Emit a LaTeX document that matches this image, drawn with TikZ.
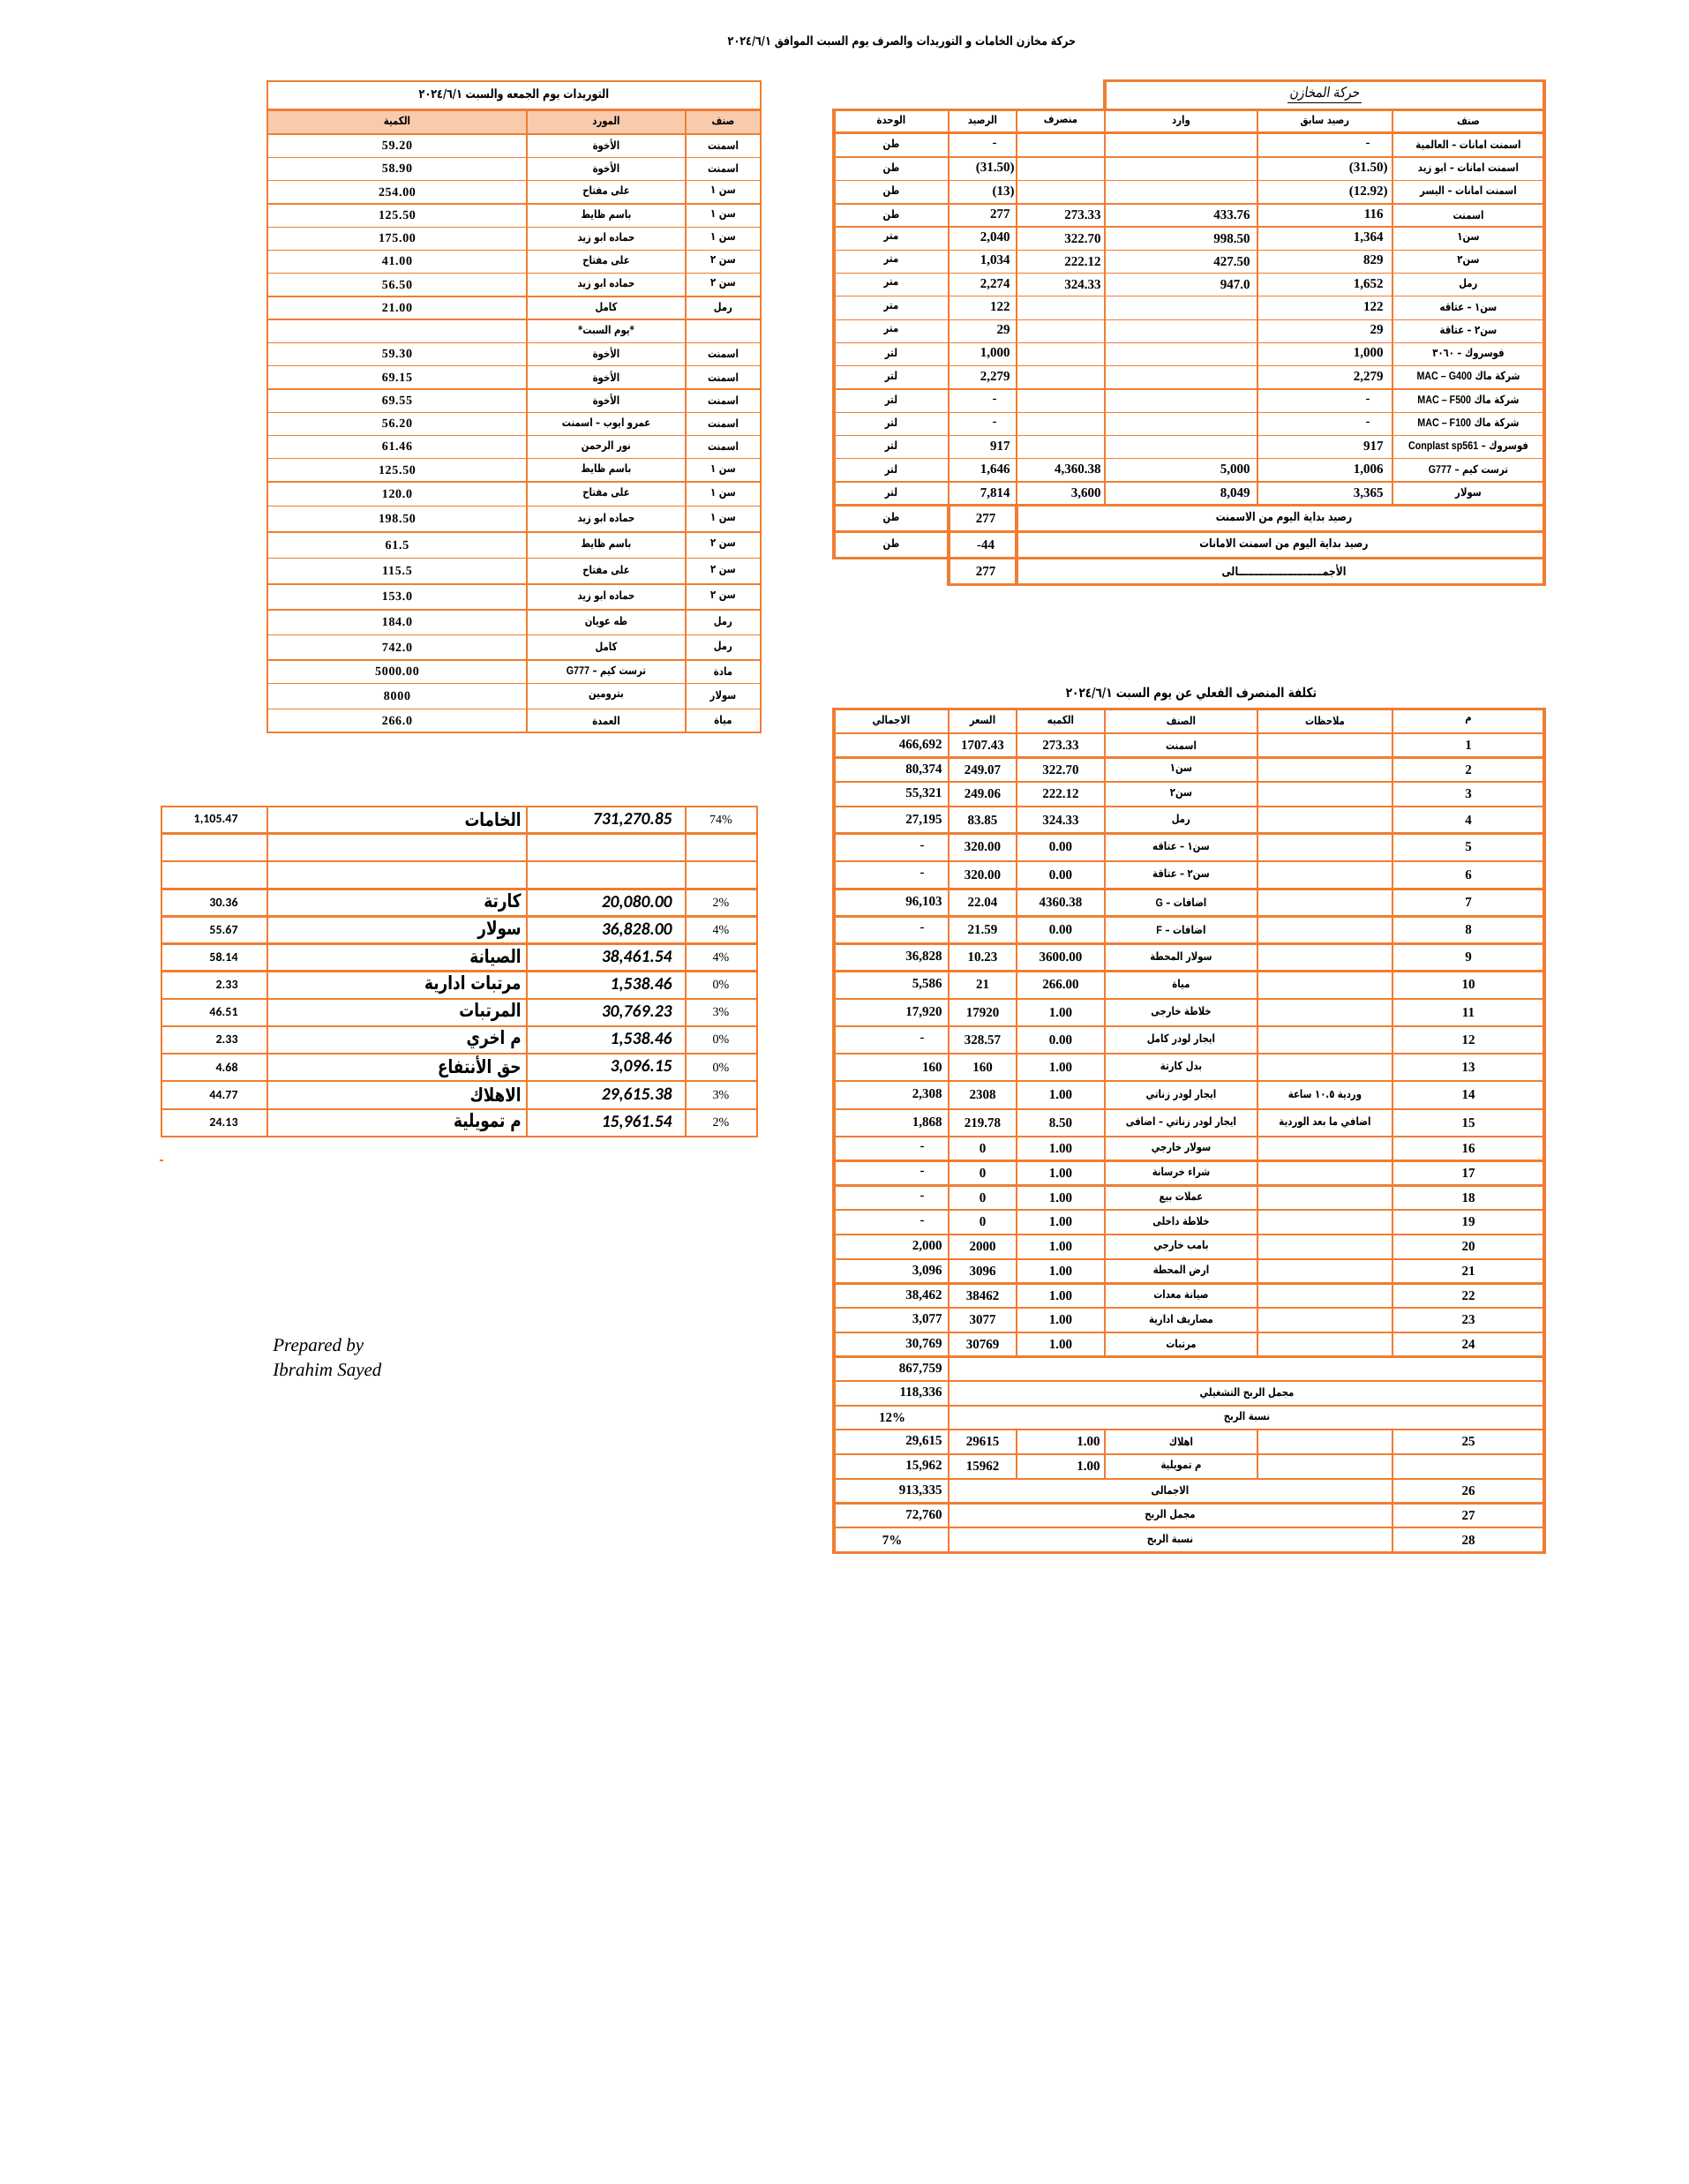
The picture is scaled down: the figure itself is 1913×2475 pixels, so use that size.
\documentclass[tikz,border=0pt]{standalone}
\usepackage{fontspec}
\setmainfont{Liberation Serif}
\newfontfamily\arfont[Script=Arabic,FakeStretch=0.8]{DejaVu Sans}
\newfontfamily\arslant[Script=Arabic,FakeStretch=0.85,FakeSlant=0.15]{DejaVu Sans}
\newfontfamily\digfont[FakeStretch=0.8]{DejaVu Sans}
\newfontfamily\lsfont[FakeStretch=0.85]{Liberation Sans}
\newfontfamily\calfont{Carlito}
\newfontfamily\serfont{Liberation Serif}
\newfontfamily\spfont[LetterSpace=5]{Liberation Serif}
\TeXXeTstate=1
\definecolor{orng}{RGB}{240,125,49}
\definecolor{peach}{RGB}{248,203,173}
\newcommand\fs[1]{\fontsize{#1}{#1}\selectfont}
\newcommand\AR[1]{{\arfont\bfseries #1}}
\newcommand\AD[1]{\beginL{\digfont\bfseries #1}\endL}
\newcommand\LT[1]{\beginL{\lsfont\bfseries #1}\endL}
\newcommand\phr{\phantom{)}}
\newcommand\dsh{-\kern10pt\relax}
\newcommand\TRrow[8]{%
 \node[ar] (tra#1) at (1664,#2) {\AR{#3}};
 \node[nm,anchor=east] (trb#1) at (1573,#2) {#4};
 \node[nm,anchor=east] (trc#1) at (1417,#2) {#5};
 \node[nm,anchor=east] (trd#1) at (1248,#2) {#6};
 \node[nm,anchor=east] (tre#1) at (1150,#2) {#7};
 \node[ar] (trf#1) at (1010,#2) {\AR{#8}};}
\newcommand\TLrow[5]{%
 \node[ar] (tls#1) at (819.5,#2) {\AR{#3}};
 \node[ar] (tlm#1) at (687,#2) {\AR{#4}};
 \node[tln] (tlq#1) at (450,#2) {#5};}
\newcommand\BRrow[8]{%
 \node[nm] (brm#1) at (1664,#2) {#3};
 \node[ar] (brn#1) at (1501.5,#2) {\AR{#4}};
 \node[ar] (bri#1) at (1338.5,#2) {\AR{#5}};
 \node[nm] (brq#1) at (1202,#2) {#6};
 \node[nm] (brp#1) at (1113.5,#2) {#7};
 \node[nm,anchor=east] (brt#1) at (1068,#2) {#8};}
\newcommand\BLrow[6]{%
 \node[blc,anchor=east] (bla#1) at (270,#2) {#3};
 \node[bll,anchor=east] (blb#1) at (591,#2) {\AR{#4}};
 \node[bln,anchor=east] (blc#1) at (762,#2) {#5};
 \node[blp] (bld#1) at (817,#2) {#6};}
\begin{document}
\begin{tikzpicture}[x=0.5pt,y=-0.5pt,
 gl/.style={draw=orng,line width=0.8pt},
 hl/.style={draw=orng,line width=1.2pt},
 ol/.style={draw=orng,line width=1.6pt},
 ar/.style={inner sep=0pt,font=\fs{6.3}},
 arb/.style={inner sep=0pt,font=\fs{6.7}},
 nm/.style={inner sep=0pt,font=\fs{7.5}\serfont\bfseries},
 tln/.style={inner sep=0pt,font=\fs{7}\spfont\bfseries},
 blc/.style={inner sep=0pt,font=\fs{7}\calfont\bfseries},
 bll/.style={inner sep=0pt,font=\fs{10.5}},
 bln/.style={inner sep=0pt,font=\fs{9.8}\calfont\bfseries\itshape},
 blp/.style={inner sep=0pt,font=\fs{7}\serfont}]
\useasboundingbox (0,0) rectangle (1913,2475);
\fill[white] (0,0) rectangle (1913,2475);

% ---------- main title
\node[inner sep=0pt,font=\fs{7}] (title) at (1022,48) {\AR{\beginR حركة مخازن الخامات و التوريدات والصرف يوم السبت الموافق \AD{٢٠٢٤/٦/١}\endR}};

% ---------- top-right grid
\foreach \y in {178,204.3,230.7,257,283.3,309.3,335.5,362.3,388.3,414.3,440.7,467.3,493.5,519.5,546}
  \draw[gl] (945,\y) -- (1750,\y);
\foreach \x in {1075,1152,1252,1425,1578}
  \draw[gl] (\x,124.3) -- (\x,572.7);
\draw[ol] (1252,91.7) rectangle (1750,124.3);
\draw[ol] (945,124.3) rectangle (1750,632.7);
\foreach \y in {150.7,572.7,602.3}
  \draw[ol] (945,\y) -- (1750,\y);
\draw[ol] (1075,572.7) -- (1075,662.3);
\draw[ol] (1152,572.7) -- (1152,662.3);
\draw[ol] (1075,632.7) rectangle (1750,662.3);

\node[inner sep=1pt,font=\fs{8}] (hdrM) at (1501,106) {{\arslant\beginR حركة المخازن\endR}};
\draw[black,line width=0.5pt] (hdrM.south west) -- (hdrM.south east);

\node[ar] (h1) at (1664,137.5) {\AR{\beginR صنف\endR}};
\node[ar] (h2) at (1501.5,137.5) {\AR{\beginR رصيد سابق\endR}};
\node[ar] (h3) at (1338.5,137.5) {\AR{\beginR وارد\endR}};
\node[ar] (h4) at (1202,137.5) {\AR{\beginR منصرف\endR}};
\node[ar] (h5) at (1113.5,137.5) {\AR{\beginR الرصيد\endR}};
\node[ar] (h6) at (1010,137.5) {\AR{\beginR الوحدة\endR}};

\TRrow{1}{164.4}{\beginR اسمنت امانات – العالمية\endR}{\dsh}{}{}{\dsh}{\beginR طن\endR}
\TRrow{2}{191.2}{\beginR اسمنت امانات – ابو زيد\endR}{(31.50)}{}{}{(31.50)}{\beginR طن\endR}
\TRrow{3}{217.5}{\beginR اسمنت امانات – اليسر\endR}{(12.92)}{}{}{(13)}{\beginR طن\endR}
\TRrow{4}{243.9}{\beginR اسمنت\endR}{116\phr}{433.76}{273.33}{277\phr}{\beginR طن\endR}
\TRrow{5}{270.2}{\beginR سن١\endR}{1,364\phr}{998.50}{322.70}{2,040\phr}{\beginR متر\endR}
\TRrow{6}{296.3}{\beginR سن٢\endR}{829\phr}{427.50}{222.12}{1,034\phr}{\beginR متر\endR}
\TRrow{7}{322.4}{\beginR رمل\endR}{1,652\phr}{947.0}{324.33}{2,274\phr}{\beginR متر\endR}
\TRrow{8}{348.9}{\beginR سن١ – عتاقه\endR}{122\phr}{}{}{122\phr}{\beginR متر\endR}
\TRrow{9}{375.3}{\beginR سن٢ – عتاقة\endR}{29\phr}{}{}{29\phr}{\beginR متر\endR}
\TRrow{10}{401.3}{\beginR فوسروك – \AD{٣٠٦٠}\endR}{1,000\phr}{}{}{1,000\phr}{\beginR لتر\endR}
\TRrow{11}{427.5}{\beginR شركة ماك \LT{MAC – G400}\endR}{2,279\phr}{}{}{2,279\phr}{\beginR لتر\endR}
\TRrow{12}{454}{\beginR شركة ماك \LT{MAC – F500}\endR}{\dsh}{}{}{\dsh}{\beginR لتر\endR}
\TRrow{13}{480.4}{\beginR شركة ماك \LT{MAC – F100}\endR}{\dsh}{}{}{\dsh}{\beginR لتر\endR}
\TRrow{14}{506.5}{\beginR فوسروك – \LT{Conplast sp561}\endR}{917\phr}{}{}{917\phr}{\beginR لتر\endR}
\TRrow{15}{532.8}{\beginR ترست كيم – \LT{G777}\endR}{1,006\phr}{5,000}{4,360.38}{1,646\phr}{\beginR لتر\endR}
\TRrow{16}{559.4}{\beginR سولار\endR}{3,365\phr}{8,049}{3,600}{7,814\phr}{\beginR لتر\endR}

\node[arb] (s1) at (1455,587.5) {\AR{\beginR رصيد بداية اليوم من الاسمنت\endR}};
\node[nm] (s1v) at (1117,587.5) {277};
\node[ar] (s1u) at (1010,587.5) {\AR{\beginR طن\endR}};
\node[arb] (s2) at (1455,617.5) {\AR{\beginR رصيد بداية اليوم من اسمنت الامانات\endR}};
\node[nm] (s2v) at (1117,617.5) {-44};
\node[ar] (s2u) at (1010,617.5) {\AR{\beginR طن\endR}};
\node[arb] (s3) at (1455,647.5) {\AR{\beginR الأجمــــــــــــــــــــــــــالى\endR}};
\node[nm] (s3v) at (1117,647.5) {277};

% ---------- top-left table
\fill[peach] (303,124.3) rectangle (862,151.7);
\foreach \y in {178.3,204.3,230.7,257.3,283.3,309.3,335.7,362,388.3,414.3,441,467.3,493.3,519.3,546,573.3,602.7,632.3,661.7,691,719.3,747.7,774.3,803.3}
  \draw[gl] (303,\y) -- (862,\y);
\foreach \x in {597,777}
  \draw[gl] (\x,124.3) -- (\x,830);
\draw[hl] (303,124.3) -- (862,124.3);
\draw[hl] (303,151.7) -- (862,151.7);
\draw[hl] (303,91.7) rectangle (862,830);

\node[ar,font=\fs{7}] (tlt) at (582.5,108) {\AR{\beginR التوريدات يوم الجمعه والسبت \AD{٢٠٢٤/٦/١}\endR}};
\node[ar] (tlh1) at (819.5,138) {\AR{\beginR صنف\endR}};
\node[ar] (tlh2) at (687,138) {\AR{\beginR المورد\endR}};
\node[ar] (tlh3) at (450,138) {\AR{\beginR الكمية\endR}};

\TLrow{1}{165}{\beginR اسمنت\endR}{\beginR الأخوة\endR}{59.20}
\TLrow{2}{191.3}{\beginR اسمنت\endR}{\beginR الأخوة\endR}{58.90}
\TLrow{3}{217.5}{\beginR سن ١\endR}{\beginR على مفتاح\endR}{254.00}
\TLrow{4}{244}{\beginR سن ١\endR}{\beginR باسم ظايط\endR}{125.50}
\TLrow{5}{270.3}{\beginR سن ١\endR}{\beginR حماده ابو زيد\endR}{175.00}
\TLrow{6}{296.3}{\beginR سن ٢\endR}{\beginR على مفتاح\endR}{41.00}
\TLrow{7}{322.5}{\beginR سن ٢\endR}{\beginR حماده ابو زيد\endR}{56.50}
\TLrow{8}{348.9}{\beginR رمل\endR}{\beginR كامل\endR}{21.00}
\node[ar] (tlm9) at (687,375.2) {\AR{\beginR *يوم السبت*\endR}};
\TLrow{10}{401.3}{\beginR اسمنت\endR}{\beginR الأخوة\endR}{59.30}
\TLrow{11}{427.7}{\beginR اسمنت\endR}{\beginR الأخوة\endR}{69.15}
\TLrow{12}{454.2}{\beginR اسمنت\endR}{\beginR الأخوة\endR}{69.55}
\TLrow{13}{480.3}{\beginR اسمنت\endR}{\beginR عمرو ايوب – اسمنت\endR}{56.20}
\TLrow{14}{506.3}{\beginR اسمنت\endR}{\beginR نور الرحمن\endR}{61.46}
\TLrow{15}{532.7}{\beginR سن ١\endR}{\beginR باسم ظايط\endR}{125.50}
\TLrow{16}{559.7}{\beginR سن ١\endR}{\beginR على مفتاح\endR}{120.0}
\TLrow{17}{588}{\beginR سن ١\endR}{\beginR حماده ابو زيد\endR}{198.50}
\TLrow{18}{617.5}{\beginR سن ٢\endR}{\beginR باسم ظايط\endR}{61.5}
\TLrow{19}{647}{\beginR سن ٢\endR}{\beginR على مفتاح\endR}{115.5}
\TLrow{20}{676.4}{\beginR سن ٢\endR}{\beginR حماده ابو زيد\endR}{153.0}
\TLrow{21}{705.2}{\beginR رمل\endR}{\beginR طه عويان\endR}{184.0}
\TLrow{22}{733.5}{\beginR رمل\endR}{\beginR كامل\endR}{742.0}
\TLrow{23}{761}{\beginR مادة\endR}{\beginR ترست كيم – \LT{G777}\endR}{5000.00}
\TLrow{24}{788.8}{\beginR سولار\endR}{\beginR بترومين\endR}{8000}
\TLrow{25}{816.7}{\beginR مياة\endR}{\beginR العمدة\endR}{266.0}

% ---------- bottom-right table
\foreach \y in {830.7,858.3,886,914,944.3,975.7,1007.3,1038.3,1069.3,1100.3,1131.7,1162.7,1194,1225,1256.7,1287.7,1315.3,1343.3,1371,1398.7,1426.7,1454.3,1482,1510,1537.5,1565,1592.7,1620,1647.7,1675.7,1703.3,1731}
  \draw[hl] (945,\y) -- (1750,\y);
\foreach \x in {1075,1152,1252,1425,1578}
  \draw[gl] (\x,803.3) -- (\x,1537.5);
\draw[gl] (1075,1537.5) -- (1075,1620);
\foreach \x in {1075,1152,1252,1425,1578}
  \draw[gl] (\x,1620) -- (\x,1675.7);
\foreach \x in {1075,1578}
  \draw[gl] (\x,1675.7) -- (\x,1759.3);
\draw[ol] (945,803.3) rectangle (1750,1759.3);

\node[inner sep=0pt,font=\fs{7.5}] (brtitle) at (1350,787) {\AR{\beginR تكلفة المنصرف الفعلي عن يوم السبت \AD{٢٠٢٤/٦/١}\endR}};
\node[ar] (bh1) at (1664,817) {\AR{\beginR م\endR}};
\node[ar] (bh2) at (1501.5,817) {\AR{\beginR ملاحظات\endR}};
\node[ar] (bh3) at (1338.5,817) {\AR{\beginR الصنف\endR}};
\node[ar] (bh4) at (1202,817) {\AR{\beginR الكميه\endR}};
\node[ar] (bh5) at (1113.5,817) {\AR{\beginR السعر\endR}};
\node[ar] (bh6) at (1010,817) {\AR{\beginR الاجمالي\endR}};

\BRrow{1}{844.5}{1}{}{\beginR اسمنت\endR}{273.33}{1707.43}{466,692}
\BRrow{2}{872.2}{2}{}{\beginR سن١\endR}{322.70}{249.07}{80,374}
\BRrow{3}{900}{3}{}{\beginR سن٢\endR}{222.12}{249.06}{55,321}
\BRrow{4}{929.2}{4}{}{\beginR رمل\endR}{324.33}{83.85}{27,195}
\BRrow{5}{960}{5}{}{\beginR سن١ – عتاقه\endR}{0.00}{320.00}{\dsh}
\BRrow{6}{991.5}{6}{}{\beginR سن٢ – عتاقة\endR}{0.00}{320.00}{\dsh}
\BRrow{7}{1022.8}{7}{}{\beginR اضافات – \LT{G}\endR}{4360.38}{22.04}{96,103}
\BRrow{8}{1053.8}{8}{}{\beginR اضافات – \LT{F}\endR}{0.00}{21.59}{\dsh}
\BRrow{9}{1084.8}{9}{}{\beginR سولار المحطة\endR}{3600.00}{10.23}{36,828}
\BRrow{10}{1116}{10}{}{\beginR مياة\endR}{266.00}{21}{5,586}
\BRrow{11}{1147.2}{11}{}{\beginR خلاطة خارجى\endR}{1.00}{17920}{17,920}
\BRrow{12}{1178.4}{12}{}{\beginR ايجار لودر كامل\endR}{0.00}{328.57}{\dsh}
\BRrow{13}{1209.5}{13}{}{\beginR بدل كارتة\endR}{1.00}{160}{160}
\BRrow{14}{1240.9}{14}{\beginR وردية \AD{١٠.٥} ساعة\endR}{\beginR ايجار لودر زناتي\endR}{1.00}{2308}{2,308}
\BRrow{15}{1272.2}{15}{\beginR اضافي ما بعد الوردية\endR}{\beginR ايجار لودر زناتي – اضافى\endR}{8.50}{219.78}{1,868}
\BRrow{16}{1301.5}{16}{}{\beginR سولار خارجي\endR}{1.00}{0}{\dsh}
\BRrow{17}{1329.3}{17}{}{\beginR شراء خرسانة\endR}{1.00}{0}{\dsh}
\BRrow{18}{1357.2}{18}{}{\beginR عملات بيع\endR}{1.00}{0}{\dsh}
\BRrow{19}{1384.9}{19}{}{\beginR خلاطة داخلى\endR}{1.00}{0}{\dsh}
\BRrow{20}{1412.7}{20}{}{\beginR بامب خارجي\endR}{1.00}{2000}{2,000}
\BRrow{21}{1440.5}{21}{}{\beginR ارض المحطة\endR}{1.00}{3096}{3,096}
\BRrow{22}{1468.2}{22}{}{\beginR صيانة معدات\endR}{1.00}{38462}{38,462}
\BRrow{23}{1496}{23}{}{\beginR مصاريف ادارية\endR}{1.00}{3077}{3,077}
\BRrow{24}{1523.8}{24}{}{\beginR مرتبات\endR}{1.00}{30769}{30,769}

\node[nm,anchor=east] (x1) at (1068,1551.3) {867,759};
\node[nm,anchor=east] (x2) at (1068,1578.9) {118,336};
\node[ar] (x2l) at (1413,1578.9) {\AR{\beginR مجمل الربح التشغيلي\endR}};
\node[nm] (x3) at (1011,1606.4) {12\%};
\node[ar] (x3l) at (1413,1606.4) {\AR{\beginR نسبة الربح\endR}};
\node[nm] (x4m) at (1664,1633.9) {25};
\node[ar] (x4i) at (1338.5,1633.9) {\AR{\beginR اهلاك\endR}};
\node[nm,anchor=east] (x4q) at (1247,1633.9) {1.00};
\node[nm] (x4p) at (1113.5,1633.9) {29615};
\node[nm,anchor=east] (x4t) at (1068,1633.9) {29,615};
\node[ar] (x5i) at (1338.5,1661.7) {\AR{\beginR م تمويلية\endR}};
\node[nm,anchor=east] (x5q) at (1247,1661.7) {1.00};
\node[nm] (x5p) at (1113.5,1661.7) {15962};
\node[nm,anchor=east] (x5t) at (1068,1661.7) {15,962};
\node[nm] (x6m) at (1664,1689.5) {26};
\node[ar] (x6l) at (1326,1689.5) {\AR{\beginR الاجمالى\endR}};
\node[nm,anchor=east] (x6t) at (1068,1689.5) {913,335};
\node[nm] (x7m) at (1664,1717.2) {27};
\node[ar] (x7l) at (1326,1717.2) {\AR{\beginR مجمل الربح\endR}};
\node[nm,anchor=east] (x7t) at (1068,1717.2) {72,760};
\node[nm] (x8m) at (1664,1745.2) {28};
\node[ar] (x8l) at (1326,1745.2) {\AR{\beginR نسبة الربح\endR}};
\node[nm] (x8t) at (1011,1745.2) {7\%};

% ---------- bottom-left table
\foreach \y in {944.3,975.7,1007.3,1038.3,1069.3,1100.3,1131.7,1162.7,1194,1225,1256.7}
  \draw[hl] (183,\y) -- (858,\y);
\foreach \x in {303,597,777}
  \draw[gl] (\x,914) -- (\x,1287.7);
\draw[hl] (183,914) rectangle (858,1287.7);

\BLrow{1}{929.2}{1,105.47}{\beginR الخامات\endR}{731,270.85}{74\%}
\BLrow{4}{1022.8}{30.36}{\beginR كارتة\endR}{20,080.00}{2\%}
\BLrow{5}{1053.8}{55.67}{\beginR سولار\endR}{36,828.00}{4\%}
\BLrow{6}{1084.8}{58.14}{\beginR الصيانة\endR}{38,461.54}{4\%}
\BLrow{7}{1116}{2.33}{\beginR مرتبات ادارية\endR}{1,538.46}{0\%}
\BLrow{8}{1147.2}{46.51}{\beginR المرتبات\endR}{30,769.23}{3\%}
\BLrow{9}{1178.4}{2.33}{\beginR م اخري\endR}{1,538.46}{0\%}
\BLrow{10}{1209.5}{4.68}{\beginR حق الأنتفاع\endR}{3,096.15}{0\%}
\BLrow{11}{1240.9}{44.77}{\beginR الاهلاك\endR}{29,615.38}{3\%}
\BLrow{12}{1272.2}{24.13}{\beginR م تمويلية\endR}{15,961.54}{2\%}

\draw[orng,line width=0.8pt] (181,1315) -- (184.5,1315);

% ---------- signature
\node[anchor=west,inner sep=0pt,font=\fs{10.5}\itshape] (prep) at (309,1526) {Prepared by};
\node[anchor=west,inner sep=0pt,font=\fs{10.5}\itshape] (pname) at (309,1554) {Ibrahim Sayed};
\end{tikzpicture}
\end{document}
